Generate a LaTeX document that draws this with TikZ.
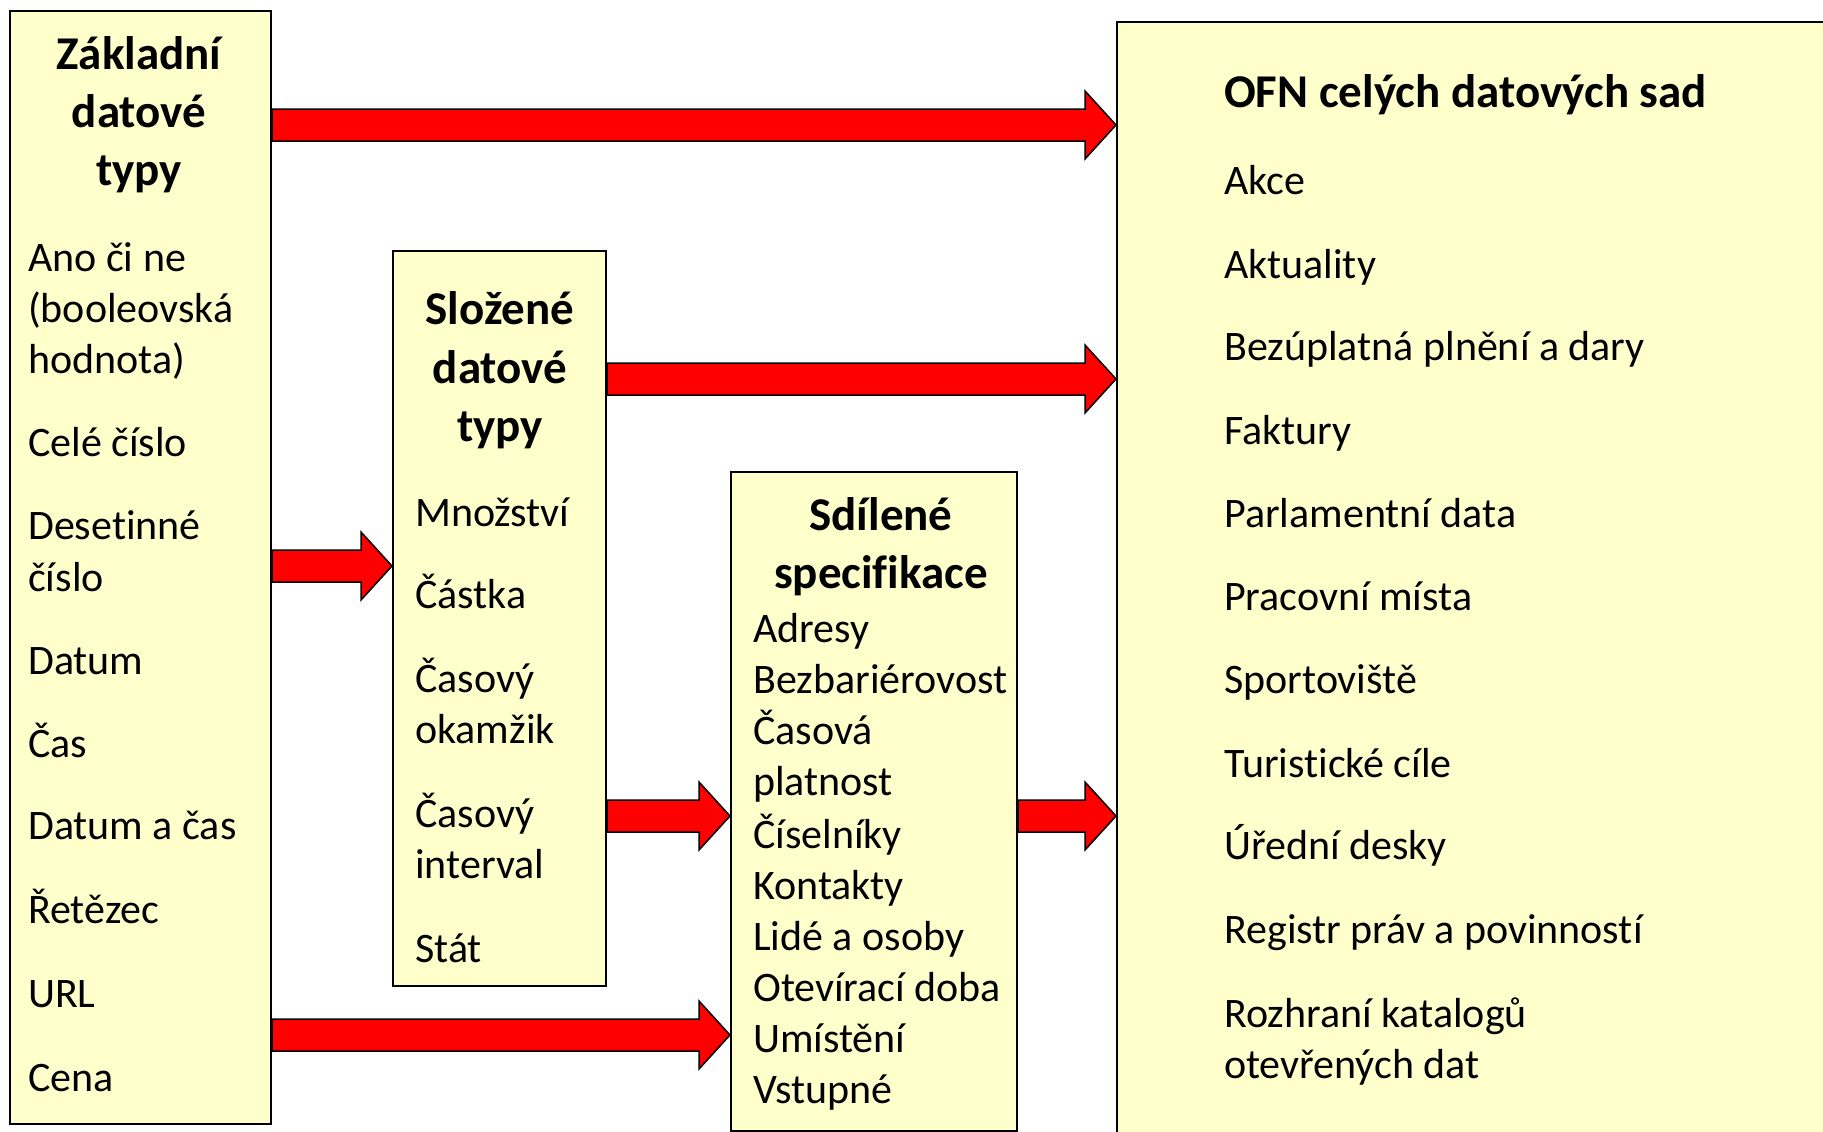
\documentclass[tikz,border=0pt]{standalone}
\usepackage{fontspec}
\setmainfont[Ligatures={NoCommon}]{Carlito}
\usetikzlibrary{calc}
\definecolor{boxfill}{RGB}{255,255,204}
\definecolor{arrowred}{RGB}{255,0,0}
\tikzstyle{listbox}=[rectangle,draw=black,fill=boxfill,line width=2pt,anchor=north west,inner sep=0pt]
\tikzstyle{boxtitle}=[font=\fontsize{47}{58}\selectfont\bfseries,anchor=mid,inner sep=0pt,yshift=-12pt]
\tikzstyle{boxitem}=[font=\fontsize{42}{51}\selectfont,anchor=mid west,inner sep=0pt,yshift=-12pt]
\tikzstyle{fatarrow}=[draw=black,fill=arrowred,line width=1.5pt,line join=miter]
\newcommand{\blockarrow}[3]{%
  \path (#1.east |- 0,#3) coordinate (from) (#2.west |- 0,#3) coordinate (to);
  \draw[fatarrow] ($(from)+(0,-16)$) -- ($(to)+(-31,-16)$) -- ($(to)+(-31,-34)$) -- (to)
    -- ($(to)+(-31,34)$) -- ($(to)+(-31,16)$) -- ($(from)+(0,16)$) -- cycle;}

\begin{document}
\begin{tikzpicture}[x=1pt,y=-1pt]

  \useasboundingbox (0,0) rectangle (1823,1132);
  \clip (0,0) rectangle (1823,1132);

  % BOXES
  \node[listbox,minimum width=261,minimum height=1113] (basic) at (9,10) {};
  \node[listbox,minimum width=213,minimum height=735] (composite) at (392,250) {};
  \node[listbox,minimum width=286,minimum height=659] (shared) at (730,471) {};
  \node[listbox,minimum width=800,minimum height=1200] (ofn) at (1116,21) {};

  % ARROWS
  \blockarrow{basic}{ofn}{125}
  \blockarrow{composite}{ofn}{379}
  \blockarrow{basic}{composite}{566}
  \blockarrow{composite}{shared}{816}
  \blockarrow{basic}{shared}{1035}
  \blockarrow{shared}{ofn}{816}

  % BASIC DATA TYPES
  \foreach \t/\y [count=\i] in {Základní/55,datové/113,typy/171}
    \node[boxtitle] (basic-t\i) at (139,\y) {\t};
  \foreach \t/\y [count=\i] in {Ano či ne/257,{(booleovská}/308,{hodnota)}/359,Celé číslo/442,
      Desetinné/525,číslo/577,Datum/660,Čas/743,Datum a čas/825,Řetězec/909,URL/993,Cena/1077}
    \node[boxitem] (basic-\i) at (28,\y) {\t};

  % COMPOSITE DATA TYPES
  \foreach \t/\y [count=\i] in {Složené/310,datové/369,typy/427}
    \node[boxtitle] (composite-t\i) at (500,\y) {\t};
  \foreach \t/\y [count=\i] in {Množství/512,Částka/594,Časový/678,okamžik/729,
      Časový/813,interval/864,Stát/948}
    \node[boxitem] (composite-\i) at (415,\y) {\t};

  % SHARED SPECIFICATIONS
  \foreach \t/\y [count=\i] in {Sdílené/516,specifikace/574}
    \node[boxtitle] (shared-t\i) at (881,\y) {\t};
  \foreach \t/\y [count=\i] in {Adresy/628,Bezbariérovost/679,Časová/730,platnost/781,
      Číselníky/834,Kontakty/885,Lidé a osoby/936,Otevírací doba/987,Umístění/1038,Vstupné/1089}
    \node[boxitem] (shared-\i) at (753,\y) {\t};

  % DATASETS
  \node[boxtitle,anchor=mid west] (ofn-t) at (1224,93) {OFN celých datových sad};
  \foreach \t/\y [count=\i] in {Akce/180,Aktuality/264,Bezúplatná plnění a dary/346,Faktury/430,
      Parlamentní data/513,Pracovní místa/596,Sportoviště/679,Turistické cíle/763,
      Úřední desky/845,Registr práv a povinností/929,Rozhraní katalogů/1013,otevřených dat/1064}
    \node[boxitem] (ofn-\i) at (1224,\y) {\t};

\end{tikzpicture}
\end{document}
